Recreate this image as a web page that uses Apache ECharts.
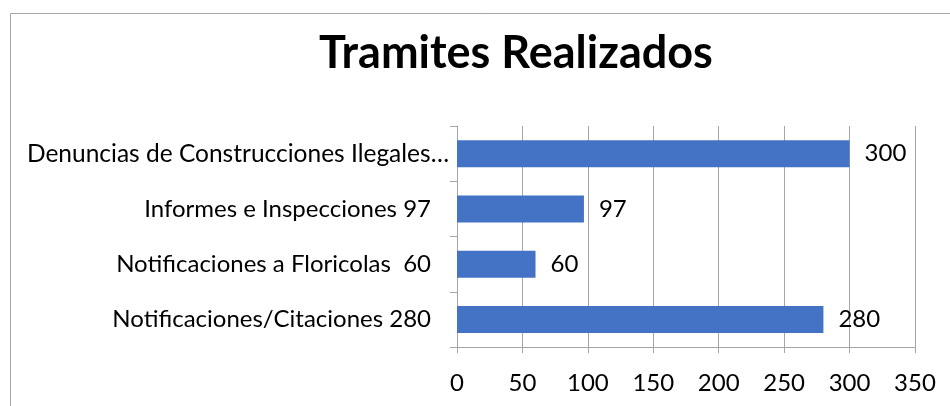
<!DOCTYPE html>
<html>
<head>
<meta charset="utf-8">
<script src="https://cdn.jsdelivr.net/npm/echarts@6/dist/echarts.min.js"></script>
<style>
  html, body { margin: 0; padding: 0; background: #fff; }
  #main { width: 950px; height: 406px; }
</style>
</head>
<body>
<div id="main"></div>
<script>
// categorias (de arriba hacia abajo)
var categorias = ['Denuncias de Construcciones Ilegales…', 'Informes e Inspecciones 97', 'Notificaciones a Floricolas  60', 'Notificaciones/Citaciones 280']
var valores = [300, 97, 60, 280]
var ticksX = { min: 0, max: 350, interval: 50 }

var myChart = echarts.init(document.getElementById('main'))
var fuente = 'Lato'
var gris = '#a6a6a6'

var option = {
  animation: false,
  title: {
    text: 'Tramites Realizados',
    left: 511,
    top: 26,
    textAlign: 'center',
    textStyle: { fontFamily: fuente, fontSize: 45, fontWeight: 'bold', color: '#000' }
  },
  graphic: [{
    type: 'rect',
    shape: { x: 10.5, y: 13.5, width: 1200, height: 600 },
    style: { fill: 'none', stroke: gris, lineWidth: 1 },
    z: -1
  }],
  grid: { left: 457, right: 35, top: 126, bottom: 59 },
  xAxis: {
    type: 'value',
    min: ticksX.min,
    max: ticksX.max,
    interval: ticksX.interval,
    axisLine: { show: true, lineStyle: { color: gris } },
    axisTick: { show: true, length: 6, lineStyle: { color: gris } },
    axisLabel: { fontFamily: fuente, fontSize: 24, color: '#000', margin: 24 },
    splitLine: { show: true, lineStyle: { color: gris } }
  },
  yAxis: {
    type: 'category',
    inverse: true,
    data: categorias,
    axisLine: { show: true, lineStyle: { color: gris } },
    axisTick: { show: true, length: 7, lineStyle: { color: gris } },
    axisLabel: {
      fontFamily: fuente,
      fontSize: 24,
      color: '#000',
      margin: 8,
      formatter: function (v, i) {
        return i === 0 ? '{b|' + v + '}' : '{a|' + v + '}'
      },
      rich: {
        a: { fontFamily: fuente, fontSize: 24, color: '#000', padding: [0, 18, 0, 0] },
        b: { fontFamily: fuente, fontSize: 24.5, color: '#000' }
      }
    }
  },
  series: [{
    type: 'bar',
    data: valores,
    barWidth: 27,
    itemStyle: { color: '#4472c4' },
    label: {
      show: true,
      position: 'right',
      distance: 15,
      fontFamily: fuente,
      fontSize: 24,
      color: '#000'
    }
  }]
}
myChart.setOption(option)
</script>
</body>
</html>
